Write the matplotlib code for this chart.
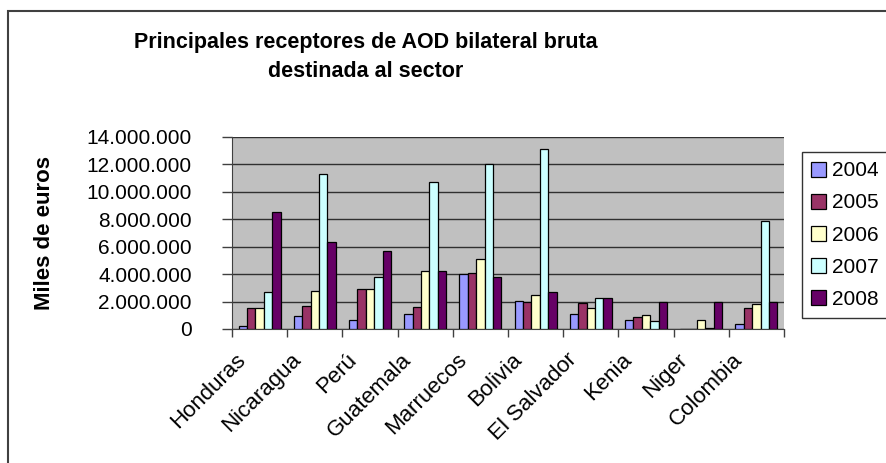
import matplotlib
matplotlib.use('Agg')
import matplotlib.pyplot as plt
import matplotlib.transforms as mtransforms
from matplotlib.patches import Patch, Rectangle
from matplotlib.ticker import FuncFormatter
import numpy as np

plt.rcParams['font.family'] = ['Liberation Sans', 'DejaVu Sans']

# data (miles de euros)
countries = ['Honduras', 'Nicaragua', 'Perú', 'Guatemala', 'Marruecos',
             'Bolivia', 'El Salvador', 'Kenia', 'Niger', 'Colombia']
years = ['2004', '2005', '2006', '2007', '2008']
v2004 = [200000, 950000, 680000, 1100000, 3980000, 2040000, 1100000, 680000, 0, 390000]
v2005 = [1500000, 1650000, 2900000, 1600000, 4100000, 1940000, 1870000, 870000, 0, 1500000]
v2006 = [1500000, 2800000, 2900000, 4200000, 5070000, 2500000, 1500000, 1000000, 680000, 1840000]
v2007 = [2700000, 11300000, 3800000, 10740000, 12050000, 13100000, 2280000, 560000, 80000, 7850000]
v2008 = [8500000, 6330000, 5700000, 4200000, 3780000, 2700000, 2250000, 1960000, 1960000, 1960000]
series = [v2004, v2005, v2006, v2007, v2008]
colors = ['#9999FF', '#993366', '#FFFFCC', '#CCFFFF', '#660066']

W, H = 887, 463
fig = plt.figure(figsize=(W / 100, H / 100), dpi=100)
fig.patch.set_facecolor('white')

# outer chart border
fig.add_artist(Rectangle((8 / W, -0.1), 1.2, 1 - 11 / H + 0.1,
                         transform=fig.transFigure, fill=False,
                         edgecolor='#404040', linewidth=1.5))

ax = fig.add_axes([232 / W, 1 - 329 / H, (784 - 232) / W, (329 - 137) / H])
ax.set_facecolor('#C0C0C0')

x = np.arange(len(countries))
bw = 0.152
for i, (vals, c, y) in enumerate(zip(series, colors, years)):
    ax.bar(x + (i - 2) * bw, vals, width=bw, color=c, edgecolor='black',
           linewidth=0.9, label=y, zorder=3)

ax.set_xlim(-0.5, len(countries) - 0.5)
ax.set_ylim(0, 14000000)
ax.set_yticks(np.arange(0, 14000001, 2000000))
ax.yaxis.set_major_formatter(FuncFormatter(lambda v, p: f'{int(v):,}'.replace(',', '.')))
ax.grid(axis='y', color='#303030', linewidth=1, zorder=1)
ax.set_axisbelow(True)

for s in ['top', 'right']:
    ax.spines[s].set_visible(False)
ax.spines['left'].set_color('#404040')
ax.spines['bottom'].set_color('#404040')

ax.tick_params(axis='y', direction='out', length=7, width=1, color='#404040',
               pad=22, labelsize=15)

# category labels at centres, tick marks at the boundaries
ax.set_xticks(x)
ax.set_xticklabels(countries, rotation=45, ha='right', va='center',
                   rotation_mode='anchor', fontsize=16)
ax.tick_params(axis='x', which='major', length=0, pad=20)
ax.set_xticks(np.arange(-0.5, len(countries), 1), minor=True)
ax.tick_params(axis='x', which='minor', direction='out', length=6,
               width=1, color='#404040')
shift = mtransforms.ScaledTranslation(-17 / 100, 0, fig.dpi_scale_trans)
for lbl in ax.get_xticklabels():
    lbl.set_transform(lbl.get_transform() + shift)

ax.set_ylabel('Miles de euros', fontsize=16, fontweight='bold')
ax.yaxis.set_label_coords(-(232 - 45) / (784 - 232), 0.5)
ax.yaxis.label.set_va('center')

fig.text(366 / W, 1 - 57 / H, 'Principales receptores de AOD bilateral bruta\ndestinada al sector',
         ha='center', va='center', fontsize=15.5, fontweight='bold',
         linespacing=1.55)

handles = [Patch(facecolor=c, edgecolor='black', linewidth=0.9) for c in colors]
leg = fig.legend(handles, years, loc='upper left', bbox_to_anchor=(802 / W, 1 - 152 / H),
                 borderaxespad=0, frameon=True, fancybox=False, shadow=False,
                 fontsize=15, handlelength=0.72, handleheight=0.72,
                 handletextpad=0.25, labelspacing=0.63, borderpad=0.45)
leg.get_frame().set_edgecolor('black')
leg.get_frame().set_linewidth(1)

fig.savefig('out.png', dpi=100)
